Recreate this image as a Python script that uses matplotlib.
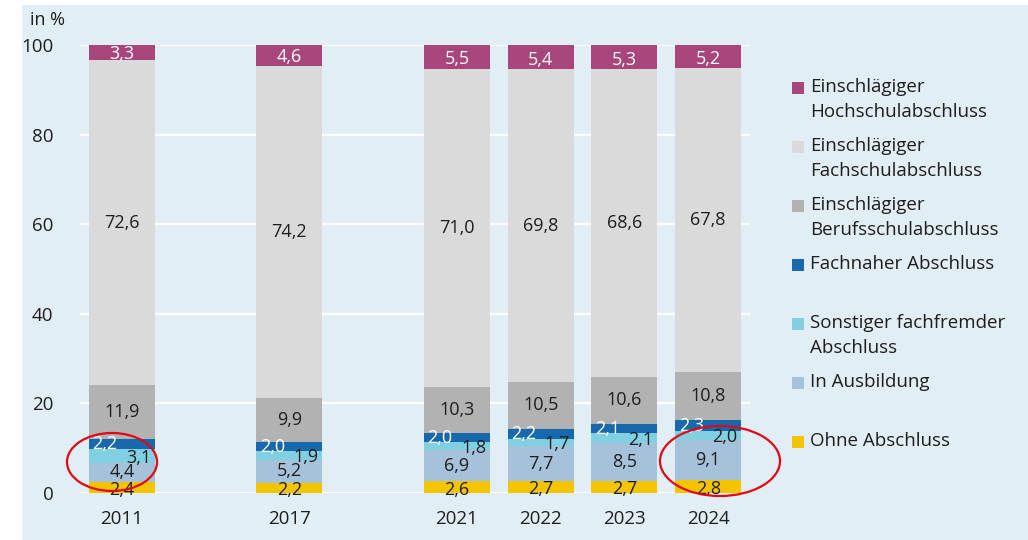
import matplotlib
matplotlib.use("Agg")
import matplotlib.pyplot as plt
from matplotlib.patches import Rectangle, Ellipse

plt.rcParams['font.family'] = ['Open Sans', 'DejaVu Sans']

years = ['2011', '2017', '2021', '2022', '2023', '2024']
xpos = [0, 2, 4, 5, 6, 7]

# stack order from bottom to top
ohne = [2.4, 2.2, 2.6, 2.7, 2.7, 2.8]
ausbildung = [4.4, 5.2, 6.9, 7.7, 8.5, 9.1]
sonstiger = [3.1, 1.9, 1.8, 1.7, 2.1, 2.0]
fachnah = [2.2, 2.0, 2.0, 2.2, 2.1, 2.3]
beruf = [11.9, 9.9, 10.3, 10.5, 10.6, 10.8]
fachschul = [72.6, 74.2, 71.0, 69.8, 68.6, 67.8]
hochschul = [3.3, 4.6, 5.5, 5.4, 5.3, 5.2]

series = [
    ('Ohne Abschluss', ohne, '#f5c400'),
    ('In Ausbildung', ausbildung, '#a6c1da'),
    ('Sonstiger fachfremder\nAbschluss', sonstiger, '#80d0e2'),
    ('Fachnaher Abschluss', fachnah, '#1868ad'),
    ('Einschlägiger\nBerufsschulabschluss', beruf, '#b2b2b2'),
    ('Einschlägiger\nFachschulabschluss', fachschul, '#dadada'),
    ('Einschlägiger\nHochschulabschluss', hochschul, '#a8457a'),
]

bg = '#e2eef5'
txt = '#1e1e1e'

fig = plt.figure(figsize=(10.28, 5.4), dpi=100, facecolor='white')
fig.patches.append(Rectangle((22 / 1028, 0), 1, 1 - 5 / 540, transform=fig.transFigure,
                             facecolor=bg, edgecolor='none', zorder=-10))

ax = fig.add_axes([80 / 1028, 1 - 493 / 540, 670 / 1028, 448 / 540])
ax.patch.set_alpha(0)
ax.set_xlim(-0.5, 7.5)
ax.set_ylim(0, 100)
ax.set_yticks([0, 20, 40, 60, 80, 100])
ax.yaxis.grid(True, color='white', linewidth=1.6)
ax.set_axisbelow(True)
for s in ax.spines.values():
    s.set_visible(False)
ax.tick_params(length=0, labelsize=13.5, colors=txt)
ax.tick_params(axis='y', pad=19)
ax.tick_params(axis='x', pad=12)
ax.set_xticks(xpos)
ax.set_xticklabels(years)

w = 0.79
bottom = [0.0] * len(years)
for name, vals, col in series:
    ax.bar(xpos, vals, w, bottom=bottom, color=col, edgecolor='none', clip_on=False)
    for i, v in enumerate(vals):
        lab = f'{v:.1f}'.replace('.', ',')
        x, y, c = xpos[i], bottom[i] + v / 2, txt
        if vals is hochschul:
            c, y = 'white', bottom[i] + v * 0.4
        elif vals is fachnah:
            c, x = 'white', xpos[i] - 0.2
        elif vals is sonstiger:
            x, y = xpos[i] + 0.2, bottom[i] + v * 0.35
        elif vals is ohne:
            y = bottom[i] + v * 0.3
        elif vals is ausbildung:
            y = bottom[i] + v * 0.5
        ax.text(x, y, lab, ha='center', va='center', fontsize=13, color=c)
    bottom = [b + v for b, v in zip(bottom, vals)]

fig.text(30 / 1028, 1 - 20 / 540, 'in %', fontsize=13, color=txt, va='center')

# legend, top to bottom, two-line slots
for k, (name, vals, col) in enumerate(series[::-1]):
    ytop = 88 + 59 * k
    fig.patches.append(Rectangle((792 / 1028, 1 - (ytop + 6) / 540), 12 / 1028, 12 / 540,
                                 transform=fig.transFigure, facecolor=col, edgecolor='none'))
    fig.text(810 / 1028, 1 - (ytop - 10) / 540, name, fontsize=13.5, color=txt,
             va='top', ha='left', linespacing=1.5)

# red circles
for cx, cy, ew, eh in [(112, 462, 90, 58), (720, 461, 120, 70)]:
    fig.patches.append(Ellipse((cx / 1028, 1 - cy / 540), ew / 1028, eh / 540,
                               transform=fig.transFigure, facecolor='none',
                               edgecolor='#e30613', linewidth=1.6, zorder=10))

fig.savefig('out.png', dpi=100, facecolor=fig.get_facecolor())
